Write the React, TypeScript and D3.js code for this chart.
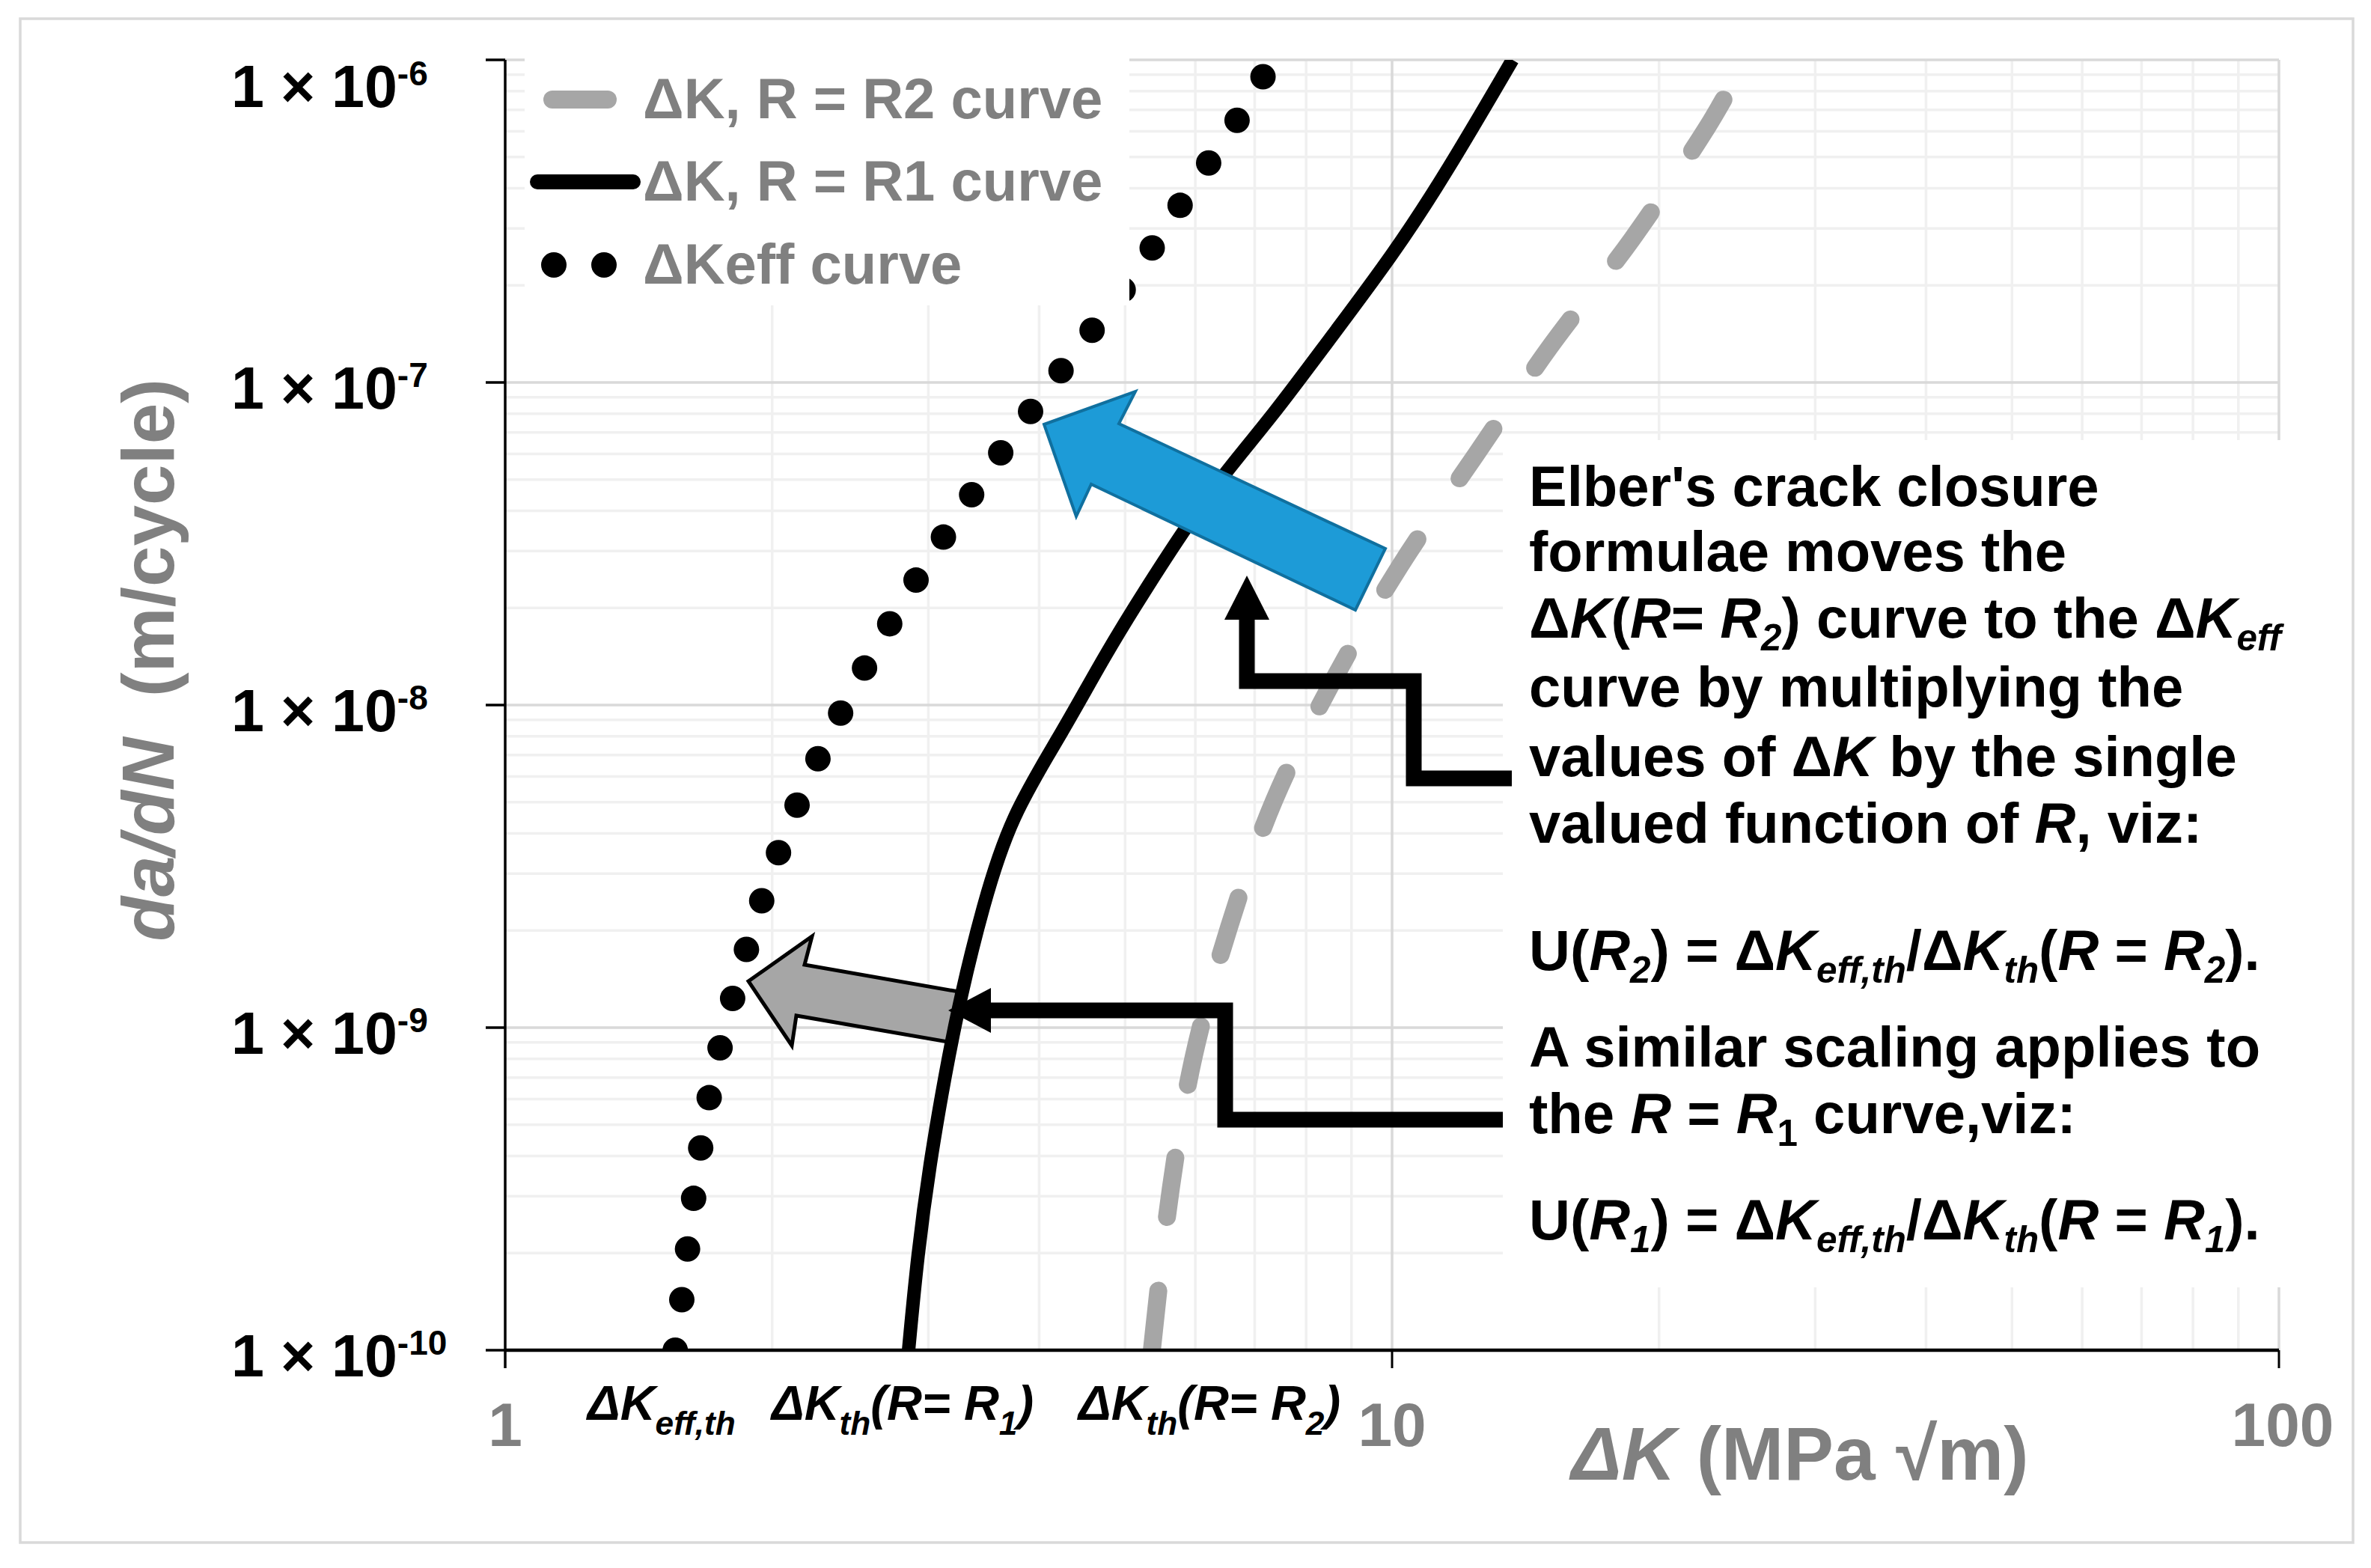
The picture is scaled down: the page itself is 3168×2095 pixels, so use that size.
import React from 'react';
import * as d3 from 'd3';

// ---------- data ----------
// ΔKeff curve (dotted)
const kEff = [1.555, 1.582, 1.632, 1.7, 1.809, 1.951, 2.142, 2.402, 2.731, 3.147, 3.655, 4.278, 5.056, 5.837, 6.767, 7.33];
const rateEff = [1.0e-10, 1.44e-10, 2.99e-10, 6.15e-10, 1.26e-9, 2.52e-9, 5.02e-9, 9.72e-9, 1.84e-8, 3.44e-8, 6.28e-8, 1.13e-7, 2.06e-7, 3.72e-7, 6.84e-7, 1.0e-6];
// ΔK, R = R1 curve (solid black)
const kR1 = [2.85, 2.917, 3.01, 3.135, 3.26, 3.454, 3.712, 4.262, 4.752, 5.297, 5.828, 6.41, 7.34, 8.43, 10.06, 11.53, 13.67];
const rateR1 = [1.0e-10, 1.97e-10, 3.76e-10, 7.21e-10, 1.24e-9, 2.37e-9, 4.51e-9, 8.34e-9, 1.44e-8, 2.33e-8, 3.49e-8, 5.07e-8, 7.91e-8, 1.32e-7, 2.52e-7, 4.49e-7, 1.0e-6];
// ΔK, R = R2 curve (grey dashed)
const kR2 = [5.36, 5.63, 5.975, 6.55, 7.36, 8.58, 10.21, 12.41, 15.07, 18.66, 22.66, 23.9];
const rateR2 = [1.0e-10, 3.17e-10, 8.13e-10, 2.05e-9, 5.05e-9, 1.19e-8, 2.7e-8, 5.93e-8, 1.29e-7, 2.79e-7, 6.18e-7, 7.94e-7];

const xTickValues = [1, 10, 100];
const xTickLabels = ['1', '10', '100'];
const yTickValues = [1e-6, 1e-7, 1e-8, 1e-9, 1e-10];
const yTickExponents = ['-6', '-7', '-8', '-9', '-10'];
const legendLabels = ['ΔK, R = R2 curve', 'ΔK, R = R1 curve', 'ΔKeff curve'];

// threshold annotations under the x axis
type Seg = { t: string; i?: boolean; s?: boolean };
const thresholdLabels: Seg[][] = [
  [{ t: 'Δ', i: true }, { t: 'K', i: true }, { t: 'eff,th', i: true, s: true }],
  [{ t: 'ΔK', i: true }, { t: 'th', i: true, s: true }, { t: '(R= R', i: true }, { t: '1', i: true, s: true }, { t: ')', i: true }],
  [{ t: 'ΔK', i: true }, { t: 'th', i: true, s: true }, { t: '(R= R', i: true }, { t: '2', i: true, s: true }, { t: ')', i: true }],
];

const noteLines: Seg[][] = [
  [{ t: "Elber's crack closure" }],
  [{ t: 'formulae moves the' }],
  [{ t: 'Δ' }, { t: 'K', i: true }, { t: '(' }, { t: 'R', i: true }, { t: '= ' }, { t: 'R', i: true }, { t: '2', i: true, s: true }, { t: ') curve to the Δ' }, { t: 'K', i: true }, { t: 'eff', i: true, s: true }],
  [{ t: 'curve by multiplying the' }],
  [{ t: 'values of Δ' }, { t: 'K', i: true }, { t: ' by the single' }],
  [{ t: 'valued function of ' }, { t: 'R', i: true }, { t: ', viz:' }],
  [{ t: 'U(' }, { t: 'R', i: true }, { t: '2', i: true, s: true }, { t: ') = Δ' }, { t: 'K', i: true }, { t: 'eff,th', i: true, s: true }, { t: '/Δ' }, { t: 'K', i: true }, { t: 'th', i: true, s: true }, { t: '(' }, { t: 'R', i: true }, { t: ' = ' }, { t: 'R', i: true }, { t: '2', i: true, s: true }, { t: ').' }],
  [{ t: 'A similar scaling applies to' }],
  [{ t: 'the ' }, { t: 'R', i: true }, { t: ' = ' }, { t: 'R', i: true }, { t: '1', s: true }, { t: ' curve,viz:' }],
  [{ t: 'U(' }, { t: 'R', i: true }, { t: '1', i: true, s: true }, { t: ') = Δ' }, { t: 'K', i: true }, { t: 'eff,th', i: true, s: true }, { t: '/Δ' }, { t: 'K', i: true }, { t: 'th', i: true, s: true }, { t: '(' }, { t: 'R', i: true }, { t: ' = ' }, { t: 'R', i: true }, { t: '1', i: true, s: true }, { t: ').' }],
];
const noteBaselines = [676, 763, 852, 944, 1037, 1126, 1296, 1425, 1514, 1656];

const FONT = "'Liberation Sans', Arial, Helvetica, sans-serif";
const W = 3168;
const H = 2095;

const RichText: React.FC<{ x: number; y: number; segs: Seg[]; size: number; fill: string; subScale?: number; subShift?: number }> = ({ x, y, segs, size, fill, subScale = 0.65, subShift = 0.22 }) => {
  let cur = 0;
  return (
    <text x={x} y={y} fontFamily={FONT} fontWeight="bold" fontSize={size} fill={fill} xmlSpace="preserve">
      {segs.map((s, k) => {
        const target = s.s ? size * subShift : 0;
        const dy = target - cur;
        cur = target;
        return (
          <tspan key={k} dy={dy} fontSize={s.s ? size * subScale : size} fontStyle={s.i ? 'italic' : 'normal'}>
            {s.t}
          </tspan>
        );
      })}
    </text>
  );
};

export default function App() {
  const x = d3.scaleLog().domain([1, 100]).range([675, 3045]);
  const y = d3.scaleLog().domain([1e-10, 1e-6]).range([1804, 80]);
  const [x0, x1] = x.range();
  const [yb, yt] = y.range();

  const line = d3
    .line<[number, number]>()
    .x((d) => x(d[0]))
    .y((d) => y(d[1]))
    .curve(d3.curveCatmullRom.alpha(0.5));
  const smoothLine = d3
    .line<[number, number]>()
    .x((d) => x(d[0]))
    .y((d) => y(d[1]))
    .curve(d3.curveBasis);

  const effPath = line(kEff.map((k, i) => [k, rateEff[i]] as [number, number])) || '';
  const r1Path = smoothLine(kR1.map((k, i) => [k, rateR1[i]] as [number, number])) || '';
  const r2Path = line(kR2.map((k, i) => [k, rateR2[i]] as [number, number])) || '';

  const xGrid = x.ticks().filter((v) => v > 1);
  const yGrid = y.ticks();
  const isMajor = (v: number) => Math.abs(Math.log10(v) - Math.round(Math.log10(v))) < 1e-6;

  const grey = '#808080';

  return (
    <svg width={W} height={H} viewBox={`0 0 ${W} ${H}`} style={{ position: 'absolute', left: 0, top: 0, display: 'block', background: '#fff' }}>
      <defs>
        <clipPath id="plotClip">
          <rect x={x0} y={yt} width={x1 - x0} height={yb - yt} />
        </clipPath>
      </defs>
      <rect x={0} y={0} width={W} height={H} fill="#fff" />
      <rect x={27} y={25} width={3117} height={2036} fill="#fff" stroke="#d9d9d9" strokeWidth={3.5} />

      {/* grid */}
      <g>
        {yGrid.filter((v) => !isMajor(v)).map((v, i) => (
          <line key={'ym' + i} x1={x0} x2={x1} y1={y(v)} y2={y(v)} stroke="#f0f0f0" strokeWidth={3.5} />
        ))}
        {xGrid.filter((v) => !isMajor(v)).map((v, i) => (
          <line key={'xm' + i} x1={x(v)} x2={x(v)} y1={yt} y2={yb} stroke="#f0f0f0" strokeWidth={3.5} />
        ))}
        {yGrid.filter((v) => isMajor(v)).map((v, i) => (
          <line key={'yM' + i} x1={x0} x2={x1} y1={y(v)} y2={y(v)} stroke="#d9d9d9" strokeWidth={3.5} />
        ))}
        {xGrid.filter((v) => isMajor(v)).map((v, i) => (
          <line key={'xM' + i} x1={x(v)} x2={x(v)} y1={yt} y2={yb} stroke="#d9d9d9" strokeWidth={3.5} />
        ))}
      </g>

      {/* grey block arrow (under the R1 curve) */}
      <polygon
        points="1000,1311 1085,1251 1075,1289 1281,1325 1266,1392 1064,1357 1058,1397"
        fill="#a6a6a6"
        stroke="#000"
        strokeWidth={5}
        strokeLinejoin="miter"
      />

      {/* curves */}
      <g clipPath="url(#plotClip)">
        <path d={r2Path} fill="none" stroke="#a6a6a6" strokeWidth={24} strokeLinecap="round" strokeDasharray="80 99" />
        <path d={r1Path} fill="none" stroke="#000" strokeWidth={18} />
        <path d={effPath} fill="none" stroke="#000" strokeWidth={34} strokeLinecap="round" strokeDasharray="0 68.1" />
      </g>

      {/* blue block arrow */}
      <polygon
        points="1395,567 1517,523 1495,566 1851,733 1811,815 1458,647 1438,690"
        fill="#1d9bd7"
        stroke="#10709f"
        strokeWidth={4}
        strokeLinejoin="miter"
      />

      {/* legend */}
      <rect x={701} y={70} width={808} height={338} fill="#fff" />
      <line x1={738} x2={812} y1={133} y2={133} stroke="#a6a6a6" strokeWidth={24} strokeLinecap="round" />
      <line x1={718} x2={846} y1={243} y2={243} stroke="#000" strokeWidth={20} strokeLinecap="round" />
      <circle cx={740} cy={354} r={17} fill="#000" />
      <circle cx={807} cy={354} r={17} fill="#000" />
      {legendLabels.map((t, i) => (
        <text key={i} x={859} y={[158, 268, 379][i]} fontFamily={FONT} fontWeight="bold" fontSize={76} fill={grey}>
          {t}
        </text>
      ))}

      {/* note text box */}
      <rect x={2008} y={588} width={1042} height={1132} fill="#fff" />
      {noteLines.map((segs, i) => (
        <RichText key={i} x={2043} y={noteBaselines[i]} segs={segs} size={76} fill="#000" />
      ))}

      {/* elbow connectors */}
      <polyline points="2020,1040 1889,1040 1889,910 1666,910 1666,820" fill="none" stroke="#000" strokeWidth={21} strokeLinejoin="miter" />
      <polygon points="1666,769 1696,828 1636,828" fill="#000" />
      <polyline points="2008,1496 1637,1496 1637,1350 1316,1350" fill="none" stroke="#000" strokeWidth={21} strokeLinejoin="miter" />
      <polygon points="1267,1350 1324,1320 1324,1380" fill="#000" />

      {/* axes */}
      <line x1={x0} x2={x0} y1={yt} y2={yb + 24} stroke="#000" strokeWidth={3.5} />
      {yTickValues.map((v, i) => (
        <line key={'yt' + i} x1={x0 - 26} x2={x0} y1={y(v)} y2={y(v)} stroke="#000" strokeWidth={3.5} />
      ))}
      <line x1={x0} x2={x1} y1={yb} y2={yb} stroke="#000" strokeWidth={4.5} />
      {xTickValues.filter((v) => v > 1).map((v, i) => (
        <line key={'xt' + i} x1={x(v)} x2={x(v)} y1={yb} y2={yb + 24} stroke="#000" strokeWidth={3} />
      ))}

      {/* y tick labels */}
      {yTickValues.map((v, i) => {
        const base = Math.max(y(v) + 35, 143);
        return (
          <text key={'yl' + i} x={309} y={base} fontFamily={FONT} fontWeight="bold" fontSize={79} fill="#000" xmlSpace="preserve">
            {'1 × 10'}
            <tspan dy={-29} fontSize={46}>{yTickExponents[i]}</tspan>
          </text>
        );
      })}

      {/* x tick labels */}
      {xTickValues.map((v, i) => (
        <text key={'xl' + i} x={x(v) + (i === 2 ? 5 : 0)} y={1932} textAnchor="middle" fontFamily={FONT} fontWeight="bold" fontSize={82} fill={grey}>
          {xTickLabels[i]}
        </text>
      ))}

      {/* threshold labels */}
      {thresholdLabels.map((segs, i) => (
        <RichText key={'th' + i} x={[785, 1031, 1441][i]} y={1897} segs={segs} size={65} fill="#000" subScale={0.68} subShift={0.3} />
      ))}

      {/* axis titles */}
      <text x={2405} y={1977} textAnchor="middle" fontFamily={FONT} fontWeight="bold" fontSize={100} fill={grey}>
        <tspan fontStyle="italic">ΔK</tspan>
        <tspan> (MPa √m)</tspan>
      </text>
      <text transform="translate(232,882) rotate(-90)" textAnchor="middle" fontFamily={FONT} fontWeight="bold" fontSize={98} fill={grey} xmlSpace="preserve">
        <tspan fontStyle="italic">da/dN</tspan>
        <tspan>{'  (m/cycle)'}</tspan>
      </text>
    </svg>
  );
}
